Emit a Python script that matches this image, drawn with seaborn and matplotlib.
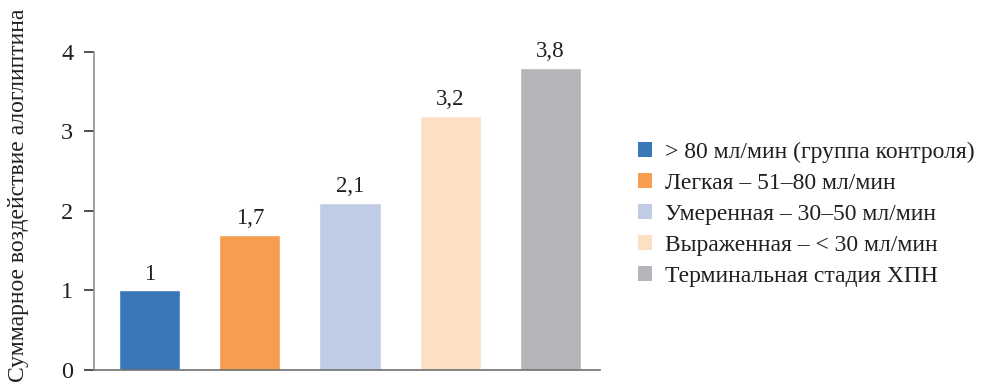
import matplotlib
matplotlib.use("Agg")
import matplotlib.pyplot as plt
import seaborn as sns
import pandas as pd
from matplotlib.patches import Patch

categories = [
    "> 80 мл/мин (группа контроля)",
    "Легкая – 51–80 мл/мин",
    "Умеренная – 30–50 мл/мин",
    "Выраженная – < 30 мл/мин",
    "Терминальная стадия ХПН",
]
values = [1.0, 1.7, 2.1, 3.2, 3.8]
value_labels = ["1", "1,7", "2,1", "3,2", "3,8"]
colors = ["#3878b8", "#f69d50", "#c0cce6", "#fce0c4", "#b4b5b8"]
y_ticks = [0, 1, 2, 3, 4]
y_label = "Суммарное воздействие алоглиптина"

sns.set_theme(style="white")
plt.rcParams["font.family"] = ["Liberation Serif", "DejaVu Serif"]

df = pd.DataFrame({"cat": categories, "val": values})

fig = plt.figure(figsize=(9.83, 3.9), dpi=100)
ax = fig.add_axes([0.0956, 0.0513, 0.5147, 0.8154])

sns.barplot(data=df, x="cat", y="val", hue="cat", palette=colors,
            width=0.61, saturation=1, legend=False, ax=ax, order=categories,
            hue_order=categories)

for i, (v, lab) in enumerate(zip(values, value_labels)):
    ax.text(i, v + 0.07, lab, ha="center", va="bottom", fontsize=16.5,
            color="#231f20", clip_on=False)

ax.set_xlim(-0.555, 4.495)
ax.set_ylim(0, 4)
ax.set_yticks(y_ticks)
ax.set_yticklabels([str(t) for t in y_ticks], fontsize=17.5, color="#231f20")
ax.set_xticks([])
ax.set_xlabel("")
ax.set_ylabel("")
fig.text(0.0185, 0.5, y_label, rotation=90, ha="center", va="center",
         fontsize=17, color="#231f20")

for s in ["top", "right"]:
    ax.spines[s].set_visible(False)
ax.spines["left"].set_color("#909090")
ax.spines["bottom"].set_color("#707070")
ax.spines["left"].set_linewidth(1.2)
ax.spines["bottom"].set_linewidth(1.2)
ax.tick_params(axis="y", direction="out", length=7, width=1.2, color="#333333",
               pad=8, left=True)

handles = [Patch(facecolor=c, edgecolor="none") for c in colors]
fig.legend(handles, categories, loc="center left", bbox_to_anchor=(0.649, 0.45),
           frameon=False, fontsize=17, handlelength=0.6, handleheight=0.6,
           handletextpad=0.55, labelspacing=0.42, labelcolor="#231f20",
           borderpad=0, borderaxespad=0)

fig.savefig("out.png", dpi=100)
